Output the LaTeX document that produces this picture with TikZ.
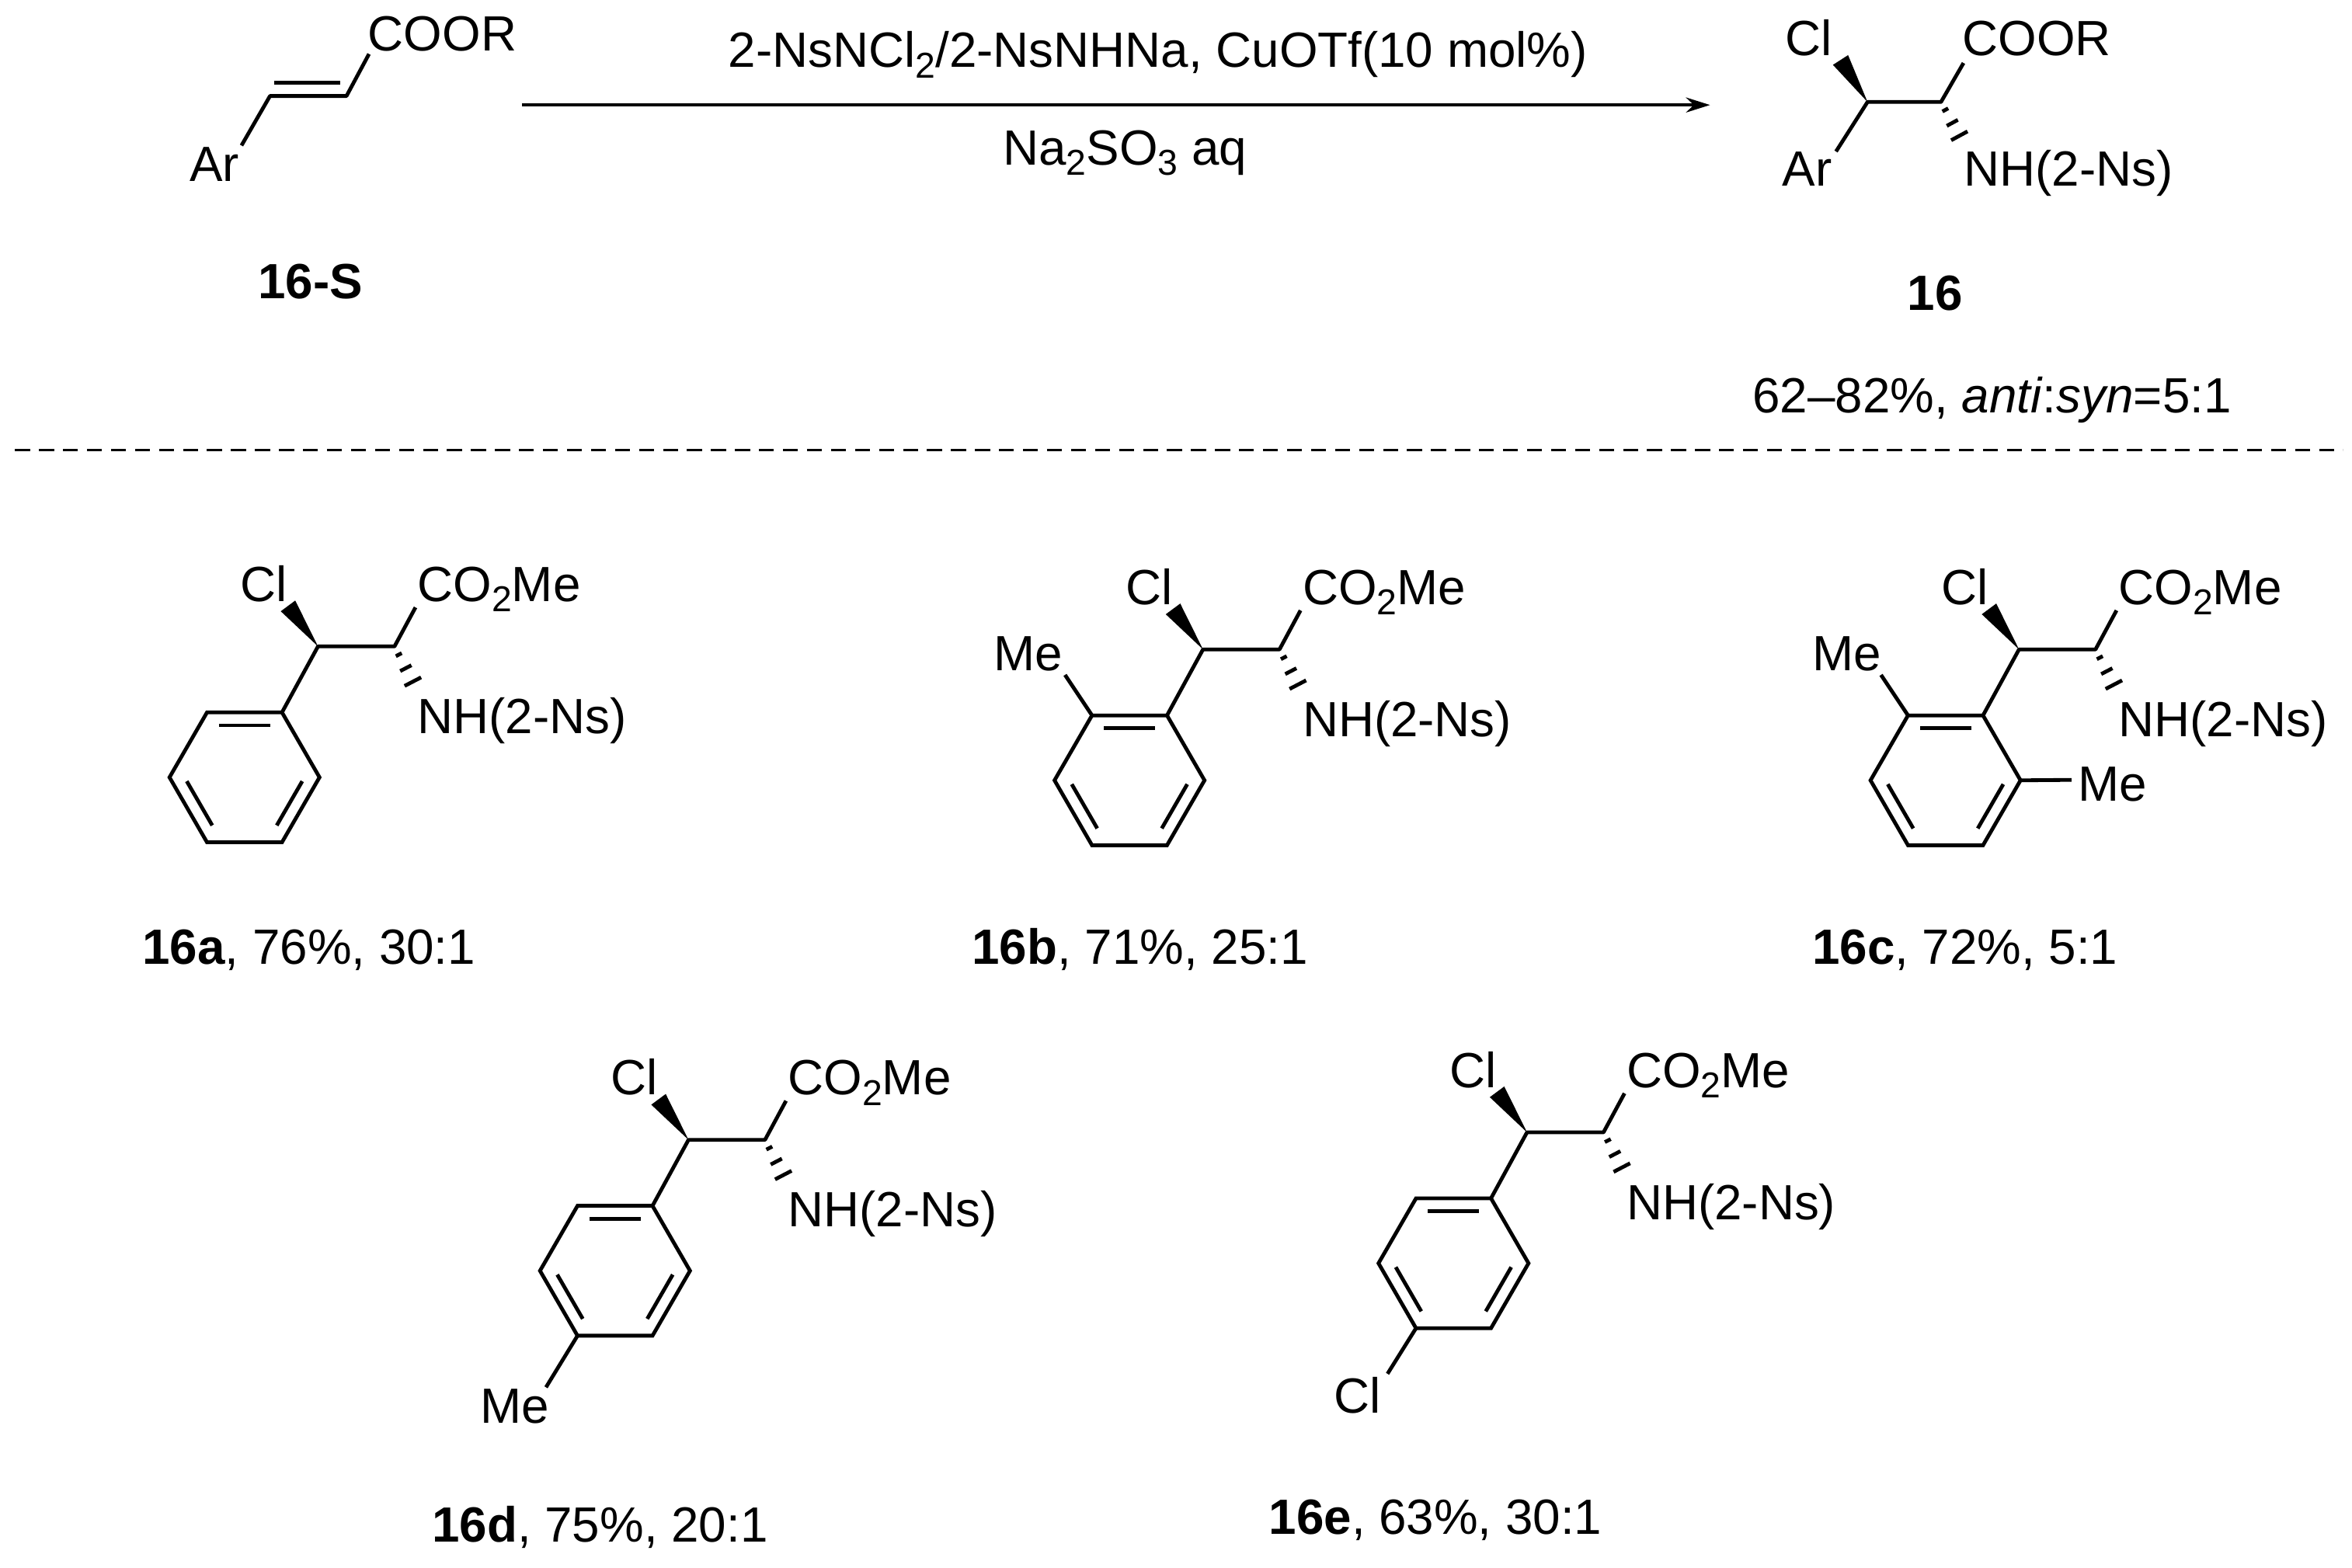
\documentclass[tikz,border=0pt]{standalone}
\usepackage{fontspec}
\setmainfont{Liberation Sans}
\usetikzlibrary{calc,arrows.meta}
\newcommand{\chsub}[1]{\raisebox{-0.4ex}{\fontsize{12}{12}\selectfont #1}}
\tikzset{
  bond/.style={line width=1.25pt},
  lbl/.style={inner sep=0pt, anchor=base west, font=\fontsize{16.5}{20}\selectfont},
  clbl/.style={inner sep=0pt, anchor=base, font=\fontsize{16.5}{20}\selectfont},
}
% wedge from #1 (narrow) to #2 (wide)
\newcommand{\wedgebond}[2]{\fill (#1) -- ($(#2)!3pt!90:(#1)$) -- ($(#2)!3pt!-90:(#1)$) -- cycle;}
% hashed from #1 to #2
\newcommand{\hashbond}[2]{%
  \foreach \t/\w in {0.22/1.1pt,0.58/2.1pt,0.94/3.1pt}{%
    \draw[bond] ($($(#1)!\t!(#2)$)!\w!90:(#2)$) -- ($($(#1)!\t!(#2)$)!\w!-90:(#2)$);}}
% core: prefix #1, C3 at (#2,#3)
\newcommand{\core}[3]{%
  \coordinate (#1c3) at (#2,#3);
  \coordinate (#1c2) at ($(#1c3)+(51,0)$);
  \coordinate (#1w) at ($(#1c3)+(-20,-27)$);
  \coordinate (#1e) at ($(#1c2)+(14,-26)$);
  \coordinate (#1h) at ($(#1c2)+(13,25)$);
  \coordinate (#1i) at ($(#1c3)+(-24,44)$);
  \node[lbl] (#1cl) at ($(#1c3)+(-52,-30)$) {Cl};
  \node[lbl] (#1es) at ($(#1c2)+(15,-30)$) {CO\chsub{2}Me};
  \node[lbl] (#1nh) at ($(#1c2)+(15,58)$) {NH(2-Ns)};
  \wedgebond{#1c3}{#1w}
  \draw[bond,line join=round] (#1e) -- (#1c2) -- (#1c3) -- (#1i);
  \hashbond{#1c2}{#1h}
  % ring
  \coordinate (#1tr) at (#1i);
  \coordinate (#1tl) at ($(#1i)+(-50,0)$);
  \coordinate (#1l) at ($(#1i)+(-75,43.3)$);
  \coordinate (#1bl) at ($(#1i)+(-50,86.6)$);
  \coordinate (#1br) at ($(#1i)+(0,86.6)$);
  \coordinate (#1r) at ($(#1i)+(25,43.3)$);
  \coordinate (#1cen) at ($(#1i)+(-25,43.3)$);
  \draw[bond,line join=miter] (#1tr) -- (#1tl) -- (#1l) -- (#1bl) -- (#1br) -- (#1r) -- cycle;
  \draw[bond,shorten <=1.5pt,shorten >=1.5pt] ($(#1cen)!0.8!(#1tl)$) -- ($(#1cen)!0.8!(#1tr)$);
  \draw[bond,shorten <=1.5pt,shorten >=1.5pt] ($(#1cen)!0.8!(#1l)$) -- ($(#1cen)!0.8!(#1bl)$);
  \draw[bond,shorten <=1.5pt,shorten >=1.5pt] ($(#1cen)!0.8!(#1br)$) -- ($(#1cen)!0.8!(#1r)$);
}
\begin{document}
\begin{tikzpicture}[x=0.5pt,y=-0.5pt]
\useasboundingbox (0,0) rectangle (1568,1045);
% 16-S
\coordinate (sa) at (161,97);
\coordinate (s1) at (180,64);
\coordinate (s2) at (231,64);
\coordinate (se) at (246,36);
\node[lbl] (sar) at (126,121) {Ar};
\node[lbl] (scoor) at (245,34) {COOR};
\draw[bond,line join=round] (sa) -- (s1) -- (s2) -- (se);
\draw[bond] ($(s1)+(3,-9)$) -- ($(s2)+(-4,-9)$);
\node[clbl,font=\fontsize{16.5}{20}\selectfont\bfseries] (sname) at (207,199) {16-S};
% arrow
\coordinate (ar1) at (348,70);
\coordinate (ar2) at (1140,70);
\draw[line width=1pt,-{Stealth[length=8pt,width=5pt]}] (ar1) -- (ar2);
\node[clbl] (cond1) at (772,45) {2-NsNCl\chsub{2}/2-NsNHNa, CuOTf(10 mol\%)};
\node[clbl] (cond2) at (750,110) {Na\chsub{2}SO\chsub{3} aq};
% product 16
\coordinate (pc3) at (1245,68);
\coordinate (pc2) at (1294,68);
\coordinate (pw) at (1227,40);
\coordinate (pe) at (1309,42);
\coordinate (pa) at (1224,101);
\coordinate (ph) at (1307,92);
\node[lbl] (pcl) at (1190,37) {Cl};
\node[lbl] (pcoor) at (1308,37) {COOR};
\node[lbl] (par) at (1188,124) {Ar};
\node[lbl] (pnh) at (1309,124) {NH(2-Ns)};
\wedgebond{pc3}{pw}
\draw[bond,line join=round] (pe) -- (pc2) -- (pc3) -- (pa);
\hashbond{pc2}{ph}
\node[clbl,font=\fontsize{16.5}{20}\selectfont\bfseries] (pname) at (1290,207) {16};
\node[clbl] (pyield) at (1328,275) {62–82\%, \textit{anti}:\textit{syn}=5:1};
% dashed separator
\coordinate (d1) at (10,300);
\coordinate (d2) at (1562,300);
\draw[line width=0.9pt,dash pattern=on 5pt off 3pt] (d1) -- (d2);
% compounds
\core{a}{212}{431}
\core{b}{802}{433}
\core{c}{1346}{433}
\core{d}{459}{760}
\core{e}{1018}{755}
% substituents
\coordinate (bme) at (710,450);
\draw[bond] (btl) -- (bme);
\node[lbl] (bmel) at (662,447) {Me};
\coordinate (cme) at (1254,450);
\draw[bond] (ctl) -- (cme);
\node[lbl] (cmel) at (1208,447) {Me};
\coordinate (cme2) at (1381,520);
\draw[bond] (cr) -- (cme2);
\node[lbl] (cmel2) at (1385,534) {Me};
\coordinate (dme) at (364,925);
\draw[bond] (dbl) -- (dme);
\node[lbl] (dmel) at (320,949) {Me};
\coordinate (ecl2) at (925,916);
\draw[bond] (ebl) -- (ecl2);
\node[lbl] (ecll) at (889,942) {Cl};
% captions
\node[clbl] (na) at (206,643) {\textbf{16a}, 76\%, 30:1};
\node[clbl] (nb) at (760,643) {\textbf{16b}, 71\%, 25:1};
\node[clbl] (nc) at (1310,643) {\textbf{16c}, 72\%, 5:1};
\node[clbl] (nd) at (400,1028) {\textbf{16d}, 75\%, 20:1};
\node[clbl] (ne) at (957,1023) {\textbf{16e}, 63\%, 30:1};
\end{tikzpicture}
\end{document}
